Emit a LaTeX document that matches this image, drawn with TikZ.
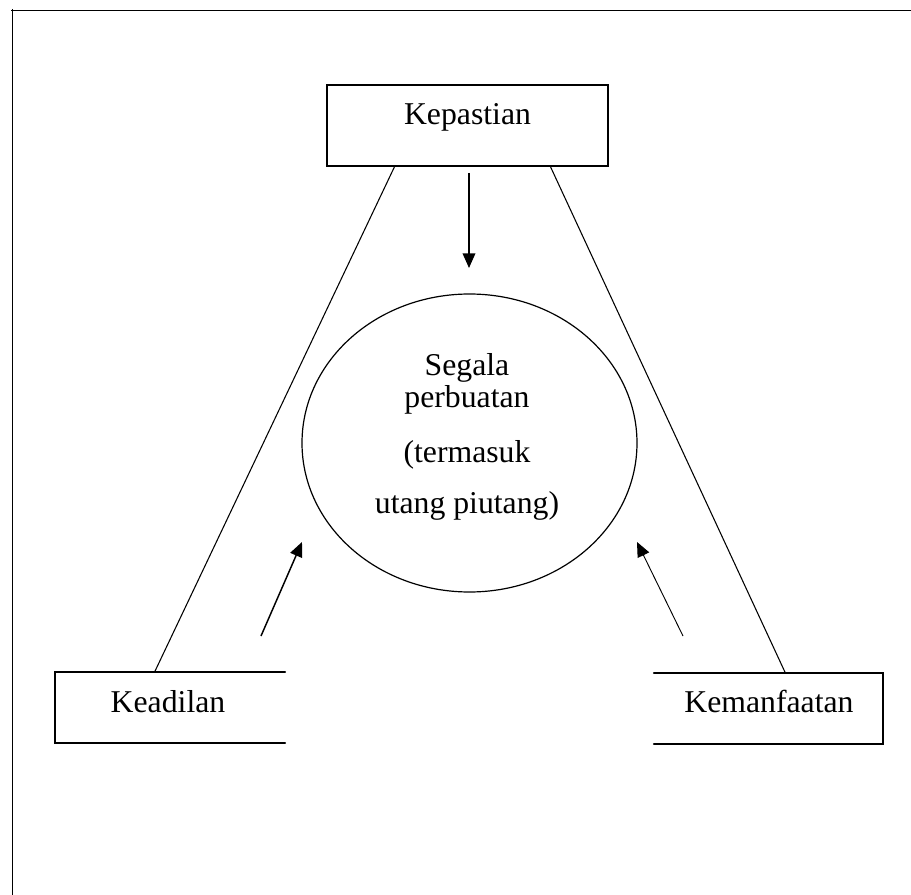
\documentclass[tikz,border=0pt]{standalone}
\usepackage{fontspec}
\setmainfont{Liberation Serif}
\usetikzlibrary{shapes.geometric,arrows.meta}

\begin{document}
\begin{tikzpicture}[
    x=0.75pt, y=-0.75pt,
    box/.style={
      rectangle,
      inner sep=0pt,
      minimum width=#1*0.75pt,
      minimum height=71*0.75pt
    },
    label/.style={
      anchor=base,
      font=\fontsize{23.8}{28}\selectfont
    },
    frame/.style={line width=0.7pt},
    side/.style={line width=1.3pt, line cap=round},
    leg/.style={line width=0.8pt},
    push/.style={line width=1.1pt, -{Triangle[length=11pt, width=9.5pt]}},
]
\useasboundingbox (0,0) rectangle (911,895);

% outer frame
\draw[frame] (911,10) -- (11,10);
\draw[frame] (12,9) -- (12,895);

% three boxes
\node[box=281, minimum height=81*0.75pt] (kepastian) at (467.5,125.5) {};
\draw[side] (kepastian.north west) rectangle (kepastian.south east);
\node[label] at (467.5,125) {Kepastian};

\node[box=230] (keadilan) at (170,707.5) {};
\draw[side] (keadilan.north east) -- (keadilan.north west) -- (keadilan.south west) -- (keadilan.south east);
\node[label] at (168,712) {Keadilan};

\node[box=229] (kemanfaatan) at (768.5,708.5) {};
\draw[side] (kemanfaatan.north west) -- (kemanfaatan.north east) -- (kemanfaatan.south east) -- (kemanfaatan.south west);
\node[label] at (769,712) {Kemanfaatan};

% the middle
\node[draw, ellipse, line width=0.9pt, inner sep=0pt,
      minimum width=335*0.75pt, minimum height=298*0.75pt] (segala) at (469.5,443) {};
\node[label] at (467,375) {Segala};
\node[label] at (467,407) {perbuatan};
\node[label] at (467,462) {(termasuk};
\node[label] at (467,513) {utang piutang)};

% legs of the triangle
\draw[leg] ([xshift=68*0.75pt]kepastian.south west) -- ([xshift=100*0.75pt]keadilan.north west);
\draw[leg] ([xshift=-58*0.75pt]kepastian.south east) -- ([xshift=-98*0.75pt]kemanfaatan.north east);

% arrows
\coordinate (top-a) at (469,173);
\coordinate (top-b) at (469,268);
\coordinate (left-a) at (261,636);
\coordinate (left-b) at (302,542);
\coordinate (right-a) at (683,636);
\coordinate (right-b) at (637,542);
\draw[push] (top-a) -- (top-b);
\draw[push] (left-a) -- (left-b);
\draw[push, line width=0.7pt] (right-a) -- (right-b);

\end{tikzpicture}
\end{document}
